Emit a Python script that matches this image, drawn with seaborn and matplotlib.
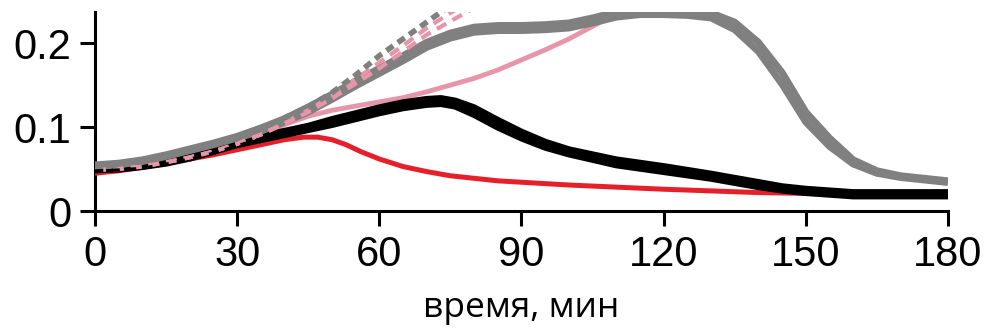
import numpy as np
import pandas as pd
import matplotlib
matplotlib.use("Agg")
import matplotlib.pyplot as plt
import seaborn as sns

# ---- data (minutes, absorbance) ----
# grey: two replicate traces
t_gray = [0, 5, 10, 15, 20, 25, 30, 35, 40, 45, 50, 55, 60, 65, 70, 75, 80, 85, 90,
          95, 100, 105, 110, 115, 120, 125, 130, 135, 140, 145, 150, 155, 160, 165,
          170, 175, 180]
gray_a = [0.053, 0.055, 0.059, 0.065, 0.072, 0.079, 0.087, 0.095, 0.106, 0.118, 0.133,
          0.149, 0.164, 0.179, 0.195, 0.206, 0.213, 0.215, 0.215, 0.216, 0.218, 0.224,
          0.231, 0.234, 0.234, 0.233, 0.230, 0.216, 0.190, 0.151, 0.106, 0.077, 0.056,
          0.045, 0.040, 0.037, 0.034]
gray_b = [0.055, 0.057, 0.061, 0.067, 0.074, 0.081, 0.089, 0.099, 0.110, 0.124, 0.139,
          0.155, 0.170, 0.185, 0.201, 0.212, 0.219, 0.221, 0.221, 0.222, 0.224, 0.230,
          0.237, 0.240, 0.240, 0.239, 0.236, 0.225, 0.201, 0.165, 0.118, 0.087, 0.061,
          0.048, 0.042, 0.039, 0.036]

# black: two replicate traces
t_black = [0, 5, 10, 15, 20, 25, 30, 35, 40, 45, 50, 55, 60, 65, 70, 73, 76, 80, 85,
           90, 95, 100, 110, 120, 130, 135, 140, 145, 150, 155, 160, 170, 180]
black_a = [0.049, 0.050, 0.053, 0.057, 0.063, 0.071, 0.079, 0.085, 0.091, 0.097, 0.103,
           0.110, 0.117, 0.123, 0.127, 0.128, 0.125, 0.115, 0.100, 0.087, 0.076, 0.068,
           0.055, 0.047, 0.039, 0.034, 0.029, 0.025, 0.022, 0.020, 0.018, 0.018, 0.018]
black_b = [0.051, 0.052, 0.055, 0.059, 0.065, 0.073, 0.083, 0.089, 0.095, 0.101, 0.109,
           0.116, 0.123, 0.129, 0.133, 0.134, 0.131, 0.123, 0.108, 0.094, 0.082, 0.073,
           0.061, 0.053, 0.044, 0.039, 0.034, 0.029, 0.026, 0.024, 0.022, 0.022, 0.022]

t_red = [0, 5, 10, 15, 20, 25, 30, 35, 40, 44, 47, 50, 53, 56, 60, 65, 70, 75, 85, 100,
         120, 140, 160, 180]
red = [0.045, 0.048, 0.052, 0.057, 0.062, 0.067, 0.073, 0.079, 0.085, 0.088, 0.088,
       0.085, 0.079, 0.071, 0.062, 0.053, 0.047, 0.042, 0.036, 0.031, 0.026, 0.022,
       0.020, 0.019]

t_pink = [0, 5, 10, 15, 20, 25, 30, 35, 40, 45, 50, 55, 60, 65, 70, 75, 80, 85, 90,
          95, 100, 105, 110, 115]
pink = [0.049, 0.050, 0.053, 0.057, 0.063, 0.070, 0.079, 0.090, 0.103, 0.113, 0.120,
        0.125, 0.130, 0.135, 0.142, 0.150, 0.158, 0.168, 0.180, 0.192, 0.205, 0.220,
        0.235, 0.250]

t_dash = [0, 5, 10, 15, 20, 25, 30, 35, 40, 45, 50, 55, 60, 65, 70, 75, 80]
gray_dash = [0.053, 0.055, 0.059, 0.065, 0.072, 0.079, 0.087, 0.098, 0.111, 0.124,
             0.141, 0.162, 0.185, 0.205, 0.225, 0.245, 0.26]
pink_dash_a = [0.049, 0.050, 0.053, 0.058, 0.064, 0.071, 0.080, 0.091, 0.104, 0.118,
               0.134, 0.152, 0.170, 0.190, 0.210, 0.226, 0.242]
pink_dash_b = [0.049, 0.050, 0.053, 0.058, 0.064, 0.071, 0.080, 0.091, 0.105, 0.120,
               0.137, 0.157, 0.177, 0.197, 0.218, 0.236, 0.252]
t_bdash = [0, 5, 10, 15, 20, 25, 30, 35, 40, 45]
black_dash = [0.048, 0.049, 0.051, 0.056, 0.062, 0.069, 0.078, 0.086, 0.094, 0.100]

x_ticks = [0, 30, 60, 90, 120, 150, 180]
y_ticks = [0, 0.1, 0.2]
y_ticklabels = ["0", "0.1", "0.2"]
x_label = "время, мин"

GRAY = "#808080"
BLACK = "#000000"
RED = "#e6202a"
PINK = "#e795ab"

sns.set_style("white")
plt.rcParams["font.family"] = ["Liberation Sans", "DejaVu Sans"]
plt.rcParams["lines.solid_joinstyle"] = "round"
plt.rcParams["lines.solid_capstyle"] = "butt"

fig = plt.figure(figsize=(9.92, 3.35), dpi=100)
ax = fig.add_axes([0.0958, 0.370, 0.8598, 0.594])

# pink solid at the bottom, then red, black and grey replicates
sns.lineplot(x=t_pink, y=pink, ax=ax, color=PINK, lw=3.5, zorder=2)
sns.lineplot(x=t_red, y=red, ax=ax, color=RED, lw=3.6, zorder=3)
sns.lineplot(x=t_black, y=black_a, ax=ax, color=BLACK, lw=5, zorder=4)
sns.lineplot(x=t_black, y=black_b, ax=ax, color=BLACK, lw=5, zorder=4)
sns.lineplot(x=t_gray, y=gray_a, ax=ax, color=GRAY, lw=5, zorder=5)
sns.lineplot(x=t_gray, y=gray_b, ax=ax, color=GRAY, lw=5, zorder=5)

# dashed traces on top
sns.lineplot(x=t_dash, y=pink_dash_a, ax=ax, color=PINK, lw=3, zorder=6,
             linestyle=(0, (2.6, 1.7)))
sns.lineplot(x=t_dash, y=pink_dash_b, ax=ax, color=PINK, lw=3, zorder=6,
             linestyle=(0, (2.6, 1.7)))
sns.lineplot(x=t_dash, y=gray_dash, ax=ax, color=GRAY, lw=4, zorder=7,
             linestyle=(0, (1.5, 1.0)))
sns.lineplot(x=t_bdash, y=black_dash, ax=ax, color=BLACK, lw=2.2, zorder=8,
             linestyle=(0, (2.7, 2.7)))

ax.set_xlim(0, 180)
ax.set_ylim(0, 0.237)
ax.set_xticks(x_ticks)
ax.set_yticks(y_ticks)
ax.set_yticklabels(y_ticklabels)

for side in ["top", "right"]:
    ax.spines[side].set_visible(False)
for side in ["left", "bottom"]:
    ax.spines[side].set_color("black")
    ax.spines[side].set_linewidth(2.2)

ax.tick_params(axis="both", which="major", direction="out", length=11, width=2.2,
               colors="black", labelsize=30, pad=6, bottom=True, left=True)
ax.set_xlabel(x_label, fontsize=25.5, color="black",
              family=["Open Sans", "DejaVu Sans"], labelpad=12)
ax.set_ylabel("")

fig.savefig("out.png", dpi=100)
